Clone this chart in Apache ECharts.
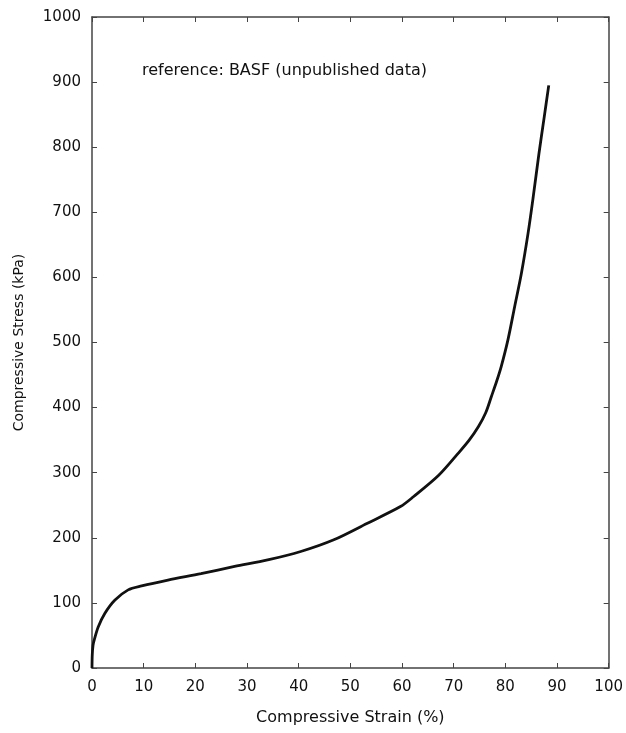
<!DOCTYPE html>
<html>
<head>
<meta charset="utf-8">
<script src="https://cdn.jsdelivr.net/npm/echarts@6/dist/echarts.min.js"></script>
<style>
html,body{margin:0;padding:0;background:#fff;}
#chart{width:626px;height:733px;}
</style>
</head>
<body>
<div id="chart"></div>
<script>
// Data
const strain = [0, 0.05, 0.2, 0.5, 1.2, 2.5, 4.4, 7.0, 9.6, 14.7, 21.1, 27.6, 34.0, 40.4, 46.8, 53.2, 59.7, 62.2, 67.1, 70.9, 73.0, 74.8, 76.2, 77.3, 78.3, 79.2, 80.5, 81.8, 83.1, 84.4, 85.4, 86.5, 87.5, 88.4];
const stress = [0, 20, 35, 45, 63, 84, 104, 120, 126, 135, 145, 156, 166, 179, 197, 222, 248, 263, 296, 330, 350, 371, 392, 417, 440, 463, 504, 555, 606, 668, 724, 790, 845, 895];
const xTicks = [0, 10, 20, 30, 40, 50, 60, 70, 80, 90, 100];
const yTicks = [0, 100, 200, 300, 400, 500, 600, 700, 800, 900, 1000];
const annotation = 'reference: BASF (unpublished data)';
const xTitle = 'Compressive Strain (%)';
const yTitle = 'Compressive Stress (kPa)';

const points = strain.map((v, i) => [v, stress[i]]);
const font = 'DejaVu Sans';
const axisColor = '#444';
const frameAxis = {
  type: 'value',
  axisLine: { show: true, onZero: false, lineStyle: { color: axisColor, width: 1.5 } },
  axisTick: { show: true, inside: true, length: 5, lineStyle: { color: axisColor } },
  axisLabel: { show: false }, splitLine: { show: false }
};

const chart = echarts.init(document.getElementById('chart'));
chart.setOption({
  backgroundColor: '#fff',
  animation: false,
  grid: { left: 92, right: 15, top: 17, bottom: 65 },
  xAxis: [
    {
      type: 'value', min: xTicks[0], max: xTicks[xTicks.length - 1], interval: 10,
      name: xTitle, nameLocation: 'middle', nameGap: 42,
      nameTextStyle: { fontFamily: font, fontSize: 16, color: '#111' },
      axisLine: { show: true, onZero: false, lineStyle: { color: axisColor, width: 1.5 } },
      axisTick: { show: true, inside: true, length: 5, lineStyle: { color: axisColor } },
      axisLabel: { fontFamily: font, fontSize: 15, color: '#111', margin: 12 },
      splitLine: { show: false }
    },
    Object.assign({}, frameAxis, { position: 'top', min: xTicks[0], max: xTicks[xTicks.length - 1], interval: 10 })
  ],
  yAxis: [
    {
      type: 'value', min: yTicks[0], max: yTicks[yTicks.length - 1], interval: 100,
      name: yTitle, nameLocation: 'middle', nameGap: 66, nameRotate: 90,
      nameTextStyle: { fontFamily: font, fontSize: 14, color: '#111' },
      axisLine: { show: true, onZero: false, lineStyle: { color: axisColor, width: 1.5 } },
      axisTick: { show: true, inside: true, length: 5, lineStyle: { color: axisColor } },
      axisLabel: { fontFamily: font, fontSize: 15, color: '#111', margin: 11, formatter: v => String(v) },
      splitLine: { show: false }
    },
    Object.assign({}, frameAxis, { position: 'right', min: yTicks[0], max: yTicks[yTicks.length - 1], interval: 100 })
  ],
  graphic: [
    {
      type: 'text', left: 142, top: 63,
      style: { text: annotation, fontFamily: font, fontSize: 16, fill: '#111' }
    }
  ],
  series: [
    {
      type: 'line', xAxisIndex: 0, yAxisIndex: 0,
      data: points, smooth: 0.3, showSymbol: false,
      lineStyle: { color: '#111', width: 2.8 }
    }
  ]
});
</script>
</body>
</html>
